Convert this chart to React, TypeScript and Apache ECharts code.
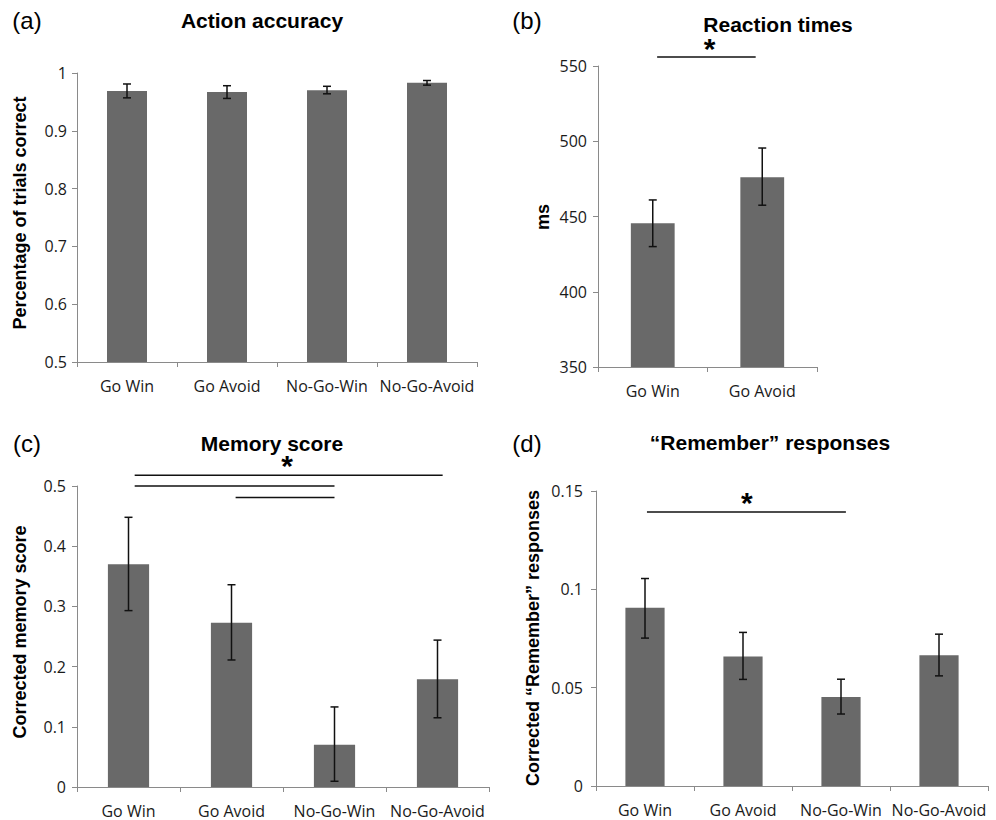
import React, { useEffect, useRef } from "react";
import * as echarts from "echarts";

// ---------- data ----------
const catsFour = ["Go Win", "Go Avoid", "No-Go-Win", "No-Go-Avoid"];
const catsTwo = ["Go Win", "Go Avoid"];

const accuracyMean = [0.969, 0.967, 0.970, 0.983];
const accuracyLow = [0.957, 0.956, 0.964, 0.979];
const accuracyHigh = [0.981, 0.978, 0.977, 0.987];

const rtMean = [445.5, 476];
const rtLow = [430, 457.5];
const rtHigh = [461, 495.5];

const memoryMean = [0.370, 0.273, 0.070, 0.179];
const memoryLow = [0.293, 0.211, 0.0095, 0.115];
const memoryHigh = [0.448, 0.336, 0.133, 0.244];

const rememberMean = [0.0906, 0.0659, 0.0452, 0.0665];
const rememberLow = [0.0752, 0.0542, 0.0366, 0.056];
const rememberHigh = [0.1055, 0.0781, 0.0543, 0.0772];

// significance brackets: [from position, to position, y value] (positions in category units)
const sigB = [[0.04, 0.94, 556]];
const sigC = [
  [0.06, 3.05, 0.518],
  [0.06, 2.0, 0.5],
  [1.04, 2.0, 0.481],
];
const sigD = [[0.02, 2.05, 0.1393]];
// stars: [position, y value]
const starB = [[0.52, 561.5]];
const starC = [[1.54, 0.534]];
const starD = [[1.04, 0.144]];

const BAR = "#696969";
const AXIS = "#8a8a8a";
const TICK_FONT = "'Open Sans', 'DejaVu Sans', sans-serif";
const BOLD_FONT = "'Liberation Sans', Arial, sans-serif";

function errData(low: number[], high: number[]) {
  return low.map((l, i) => [i, l, high[i]]);
}

function errorSeries(idx: number, low: number[], high: number[]) {
  return {
    type: "custom",
    xAxisIndex: idx,
    yAxisIndex: idx,
    clip: false,
    z: 5,
    data: errData(low, high),
    renderItem: (params: any, api: any) => {
      const x = api.value(0);
      const lo = api.coord([x, api.value(1)]);
      const hi = api.coord([x, api.value(2)]);
      const w = 4;
      const style = { stroke: "#111", lineWidth: 1.5 };
      return {
        type: "group",
        children: [
          { type: "line", shape: { x1: hi[0], y1: hi[1], x2: lo[0], y2: lo[1] }, style },
          { type: "line", shape: { x1: hi[0] - w, y1: hi[1], x2: hi[0] + w, y2: hi[1] }, style },
          { type: "line", shape: { x1: lo[0] - w, y1: lo[1], x2: lo[0] + w, y2: lo[1] }, style },
        ],
      };
    },
  };
}

function posToX(api: any, pos: number, y: number) {
  const idx = Math.round(pos);
  const frac = pos - idx;
  const band = api.size([1, 0])[0];
  const p = api.coord([idx, y]);
  return [p[0] + frac * band, p[1]];
}

function sigSeries(idx: number, lines: number[][]) {
  return {
    type: "custom",
    xAxisIndex: idx,
    yAxisIndex: idx,
    clip: false,
    z: 5,
    data: lines,
    renderItem: (params: any, api: any) => {
      const a = posToX(api, api.value(0), api.value(2));
      const b = posToX(api, api.value(1), api.value(2));
      return {
        type: "line",
        shape: { x1: a[0], y1: a[1], x2: b[0], y2: b[1] },
        style: { stroke: "#111", lineWidth: 1.5 },
      };
    },
  };
}

function starSeries(idx: number, stars: number[][]) {
  return {
    type: "custom",
    xAxisIndex: idx,
    yAxisIndex: idx,
    clip: false,
    z: 5,
    data: stars,
    renderItem: (params: any, api: any) => {
      const p = posToX(api, api.value(0), api.value(1));
      return {
        type: "text",
        x: p[0],
        y: p[1],
        style: {
          text: "*",
          fill: "#000",
          font: `bold 30px ${BOLD_FONT}`,
          align: "center",
          verticalAlign: "middle",
        },
      };
    },
  };
}

function xAxis(idx: number, data: string[]) {
  return {
    type: "category",
    gridIndex: idx,
    data,
    axisLine: { lineStyle: { color: AXIS, width: 1 } },
    axisTick: { show: true, length: 5, lineStyle: { color: AXIS } },
    axisLabel: { color: "#1a1a1a", fontFamily: TICK_FONT, fontSize: 16, margin: 16, interval: 0 },
    splitLine: { show: false },
  };
}

function yAxis(idx: number, min: number, max: number, interval: number, margin: number) {
  return {
    type: "value",
    gridIndex: idx,
    min,
    max,
    interval,
    axisLine: { show: true, lineStyle: { color: AXIS, width: 1 } },
    axisTick: { show: true, length: 5, lineStyle: { color: AXIS } },
    axisLabel: { color: "#1a1a1a", fontFamily: TICK_FONT, fontSize: 16, margin },
    splitLine: { show: false },
  };
}

function barSeries(idx: number, data: number[]) {
  return {
    type: "bar",
    xAxisIndex: idx,
    yAxisIndex: idx,
    data,
    barWidth: "40%",
    itemStyle: { color: BAR },
    z: 2,
  };
}

function label(text: string, x: number, y: number, font: string, rotate = false) {
  return {
    type: "text",
    x,
    y,
    rotation: rotate ? Math.PI / 2 : 0,
    style: { text, font, fill: "#000", align: "center", verticalAlign: "middle" },
  };
}

export default function App() {
  const ref = useRef<HTMLDivElement>(null);
  useEffect(() => {
    document.body.style.margin = "0";
    const chart = echarts.init(ref.current!, null, { renderer: "svg" });
    chart.setOption({
      animation: false,
      backgroundColor: "#fff",
      grid: [
        { left: 77, top: 73, width: 400, height: 289 },
        { left: 598, top: 66, width: 219, height: 301 },
        { left: 77, top: 486, width: 412, height: 301 },
        { left: 596, top: 491, width: 392, height: 295 },
      ],
      xAxis: [xAxis(0, catsFour), xAxis(1, catsTwo), xAxis(2, catsFour), xAxis(3, catsFour)],
      yAxis: [
        yAxis(0, 0.5, 1, 0.1, 10),
        yAxis(1, 350, 550, 50, 11),
        yAxis(2, 0, 0.5, 0.1, 11),
        yAxis(3, 0, 0.15, 0.05, 13),
      ],
      series: [
        barSeries(0, accuracyMean),
        errorSeries(0, accuracyLow, accuracyHigh),
        barSeries(1, rtMean),
        errorSeries(1, rtLow, rtHigh),
        sigSeries(1, sigB),
        starSeries(1, starB),
        barSeries(2, memoryMean),
        errorSeries(2, memoryLow, memoryHigh),
        sigSeries(2, sigC),
        starSeries(2, starC),
        barSeries(3, rememberMean),
        errorSeries(3, rememberLow, rememberHigh),
        sigSeries(3, sigD),
        starSeries(3, starD),
      ],
      graphic: [
        label("(a)", 27, 20, `24px ${BOLD_FONT}`),
        label("(b)", 527, 20, `24px ${BOLD_FONT}`),
        label("(c)", 27, 443, `24px ${BOLD_FONT}`),
        label("(d)", 527, 443, `24px ${BOLD_FONT}`),
        label("Action accuracy", 262, 20, `bold 21px ${BOLD_FONT}`),
        label("Reaction times", 778, 24, `bold 21px ${BOLD_FONT}`),
        label("Memory score", 272, 443, `bold 21px ${BOLD_FONT}`),
        label("\u201cRemember\u201d responses", 770, 442, `bold 21px ${BOLD_FONT}`),
        label("Percentage of trials correct", 20, 213, `bold 18px ${BOLD_FONT}`, true),
        label("ms", 543, 217, `bold 18px ${BOLD_FONT}`, true),
        label("Corrected memory score", 20, 632, `bold 18px ${BOLD_FONT}`, true),
        label("Corrected \u201cRemember\u201d responses", 533, 638, `bold 18px ${BOLD_FONT}`, true),
      ],
    });
    return () => chart.dispose();
  }, []);
  return <div ref={ref} style={{ width: 996, height: 820 }} />;
}
